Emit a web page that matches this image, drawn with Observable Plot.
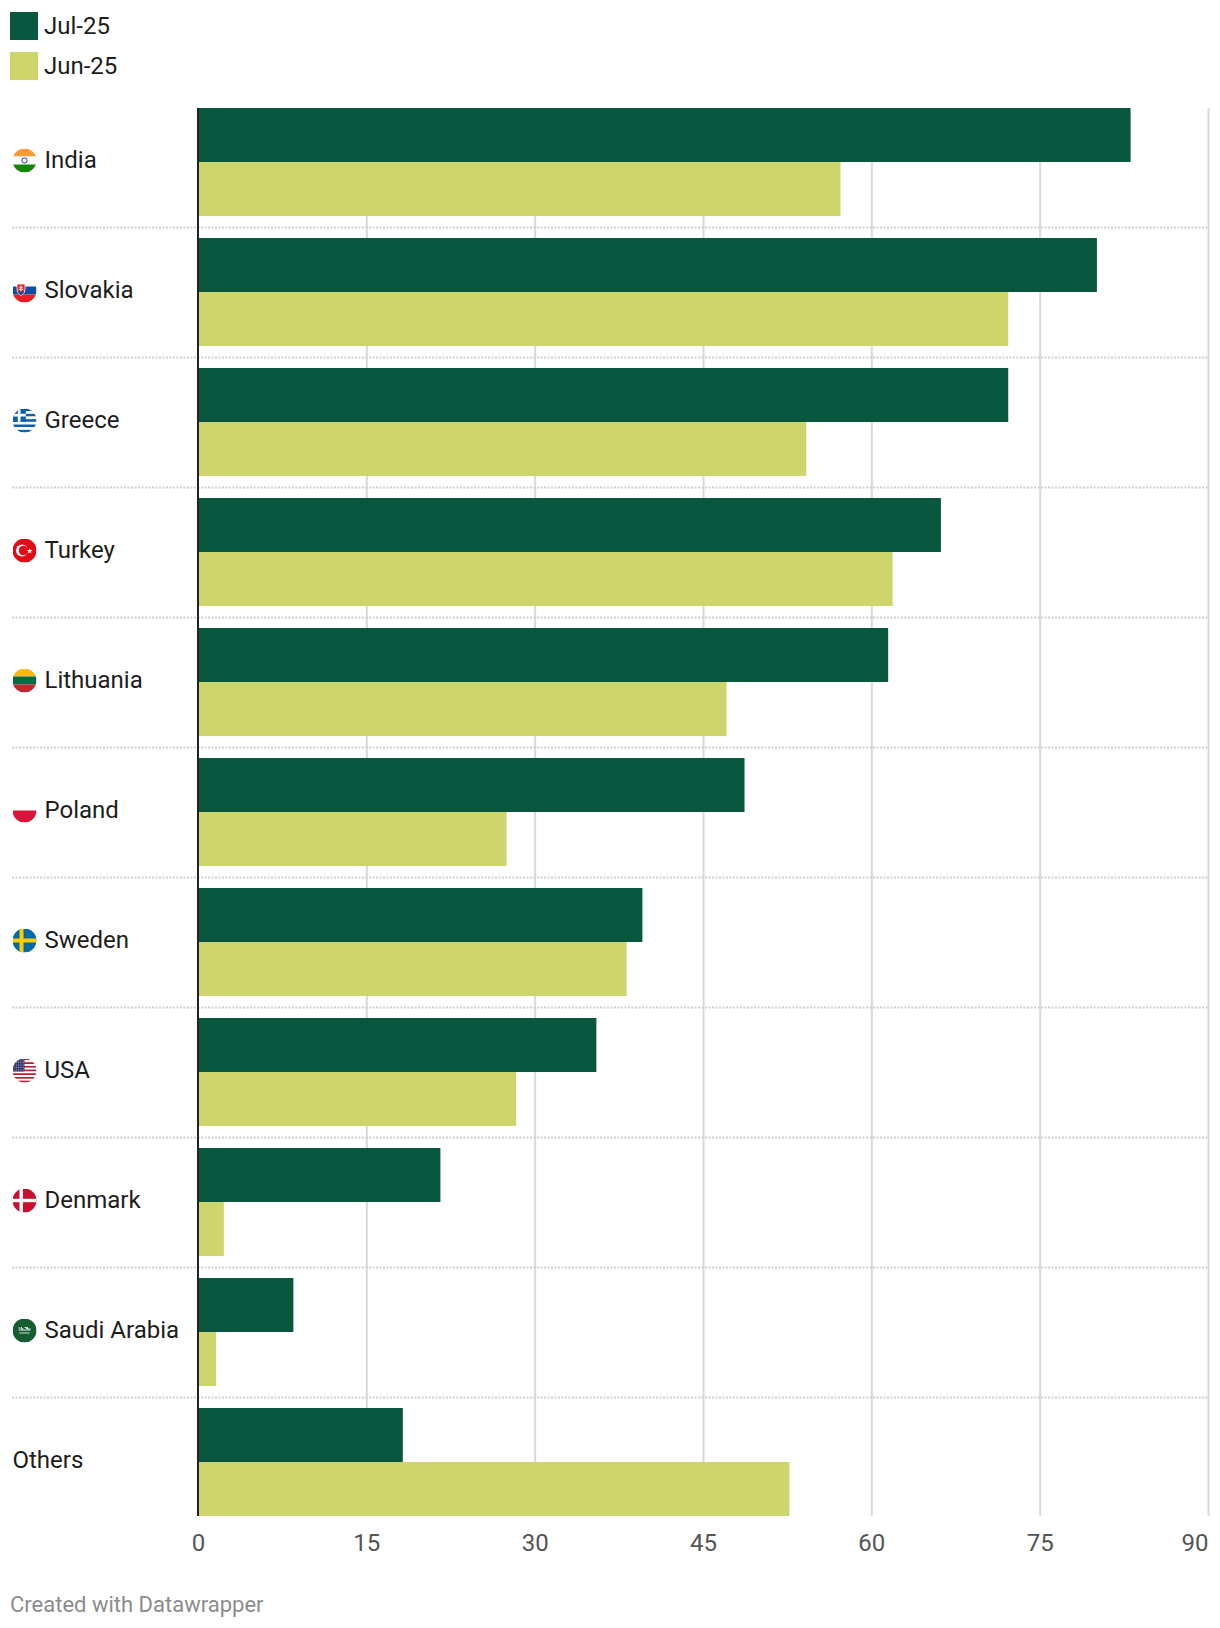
<!DOCTYPE html>
<html>
<head>
<meta charset="utf-8">
<script src="https://cdn.jsdelivr.net/npm/d3@7"></script>
<script src="https://cdn.jsdelivr.net/npm/@observablehq/plot@0.6"></script>
<style>
  html, body { margin: 0; padding: 0; background: #fff; }
  body { width: 1220px; height: 1628px; position: relative; font-family: Roboto, "Noto Sans", sans-serif; }
  .leg { position: absolute; left: 10px; display: flex; align-items: center; font-size: 24px; color: #1d1d1d; }
  .leg .sw { width: 28px; height: 28px; margin-right: 6px; }
  #chart { position: absolute; left: 0; top: 90px; }
  #foot { position: absolute; left: 10px; top: 1592px; font-size: 22px; color: #8c8c8c; }
</style>
</head>
<body>
<div id="legend"></div>
<div id="chart"></div>
<div id="foot">Created with Datawrapper</div>
<script>
const countries = ["India","Slovakia","Greece","Turkey","Lithuania","Poland","Sweden","USA","Denmark","Saudi Arabia","Others"];
const jul25 = [83.1, 80.1, 72.2, 66.2, 61.5, 48.7, 39.6, 35.5, 21.6, 8.5, 18.25];
const jun25 = [57.25, 72.2, 54.2, 61.9, 47.1, 27.5, 38.2, 28.35, 2.3, 1.6, 52.7];
const seriesNames = ["Jul-25", "Jun-25"];
const seriesColors = ["#09563e", "#cfd56d"];
const xTicks = [0, 15, 30, 45, 60, 75, 90];

// simplified circular flag icons (decorative)
const flagSvgs = {
  "India": '<rect width="24" height="8" fill="#ff9933"/><rect y="8" width="24" height="8" fill="#fff"/><rect y="16" width="24" height="8" fill="#138808"/><circle cx="12" cy="12" r="2.6" fill="none" stroke="#000080" stroke-width="0.8"/>',
  "Slovakia": '<rect width="24" height="8" fill="#fff"/><rect y="8" width="24" height="8" fill="#0b4ea2"/><rect y="16" width="24" height="8" fill="#ee1c25"/><path d="M4.5 5.5h8v5.5q0 4-4 6q-4-2-4-6z" fill="#ee1c25" stroke="#fff" stroke-width="0.8"/><path d="M8.5 7v7M6.8 8.8h3.4M6.2 10.8h4.6" stroke="#fff" stroke-width="1"/><path d="M5.3 14q3.2-2.6 6.4 0q-1.4 1.8-3.2 2.6q-1.8-.8-3.2-2.6z" fill="#0b4ea2"/>',
  "Greece": (() => { let s = ""; for (let i = 0; i < 9; i++) s += `<rect y="${i*24/9}" width="24" height="${24/9+0.05}" fill="${i%2?"#fff":"#0d5eaf"}"/>`; return s + '<rect width="13.3" height="13.3" fill="#0d5eaf"/><rect x="5.3" width="2.7" height="13.3" fill="#fff"/><rect y="5.3" width="13.3" height="2.7" fill="#fff"/>'; })(),
  "Turkey": '<rect width="24" height="24" fill="#e30a17"/><circle cx="9.5" cy="12" r="6" fill="#fff"/><circle cx="11" cy="12" r="4.8" fill="#e30a17"/><path d="M17.2 9.6l.7 2 2.1.1-1.7 1.3.6 2-1.7-1.2-1.7 1.2.6-2-1.7-1.3 2.1-.1z" fill="#fff"/>',
  "Lithuania": '<rect width="24" height="8" fill="#fdb913"/><rect y="8" width="24" height="8" fill="#006a44"/><rect y="16" width="24" height="8" fill="#c1272d"/>',
  "Poland": '<rect width="24" height="12" fill="#fff"/><rect y="12" width="24" height="12" fill="#dc143c"/>',
  "Sweden": '<rect width="24" height="24" fill="#006aa7"/><rect x="7" width="4" height="24" fill="#fecc00"/><rect y="10" width="24" height="4" fill="#fecc00"/>',
  "USA": (() => { let s = ""; for (let i = 0; i < 13; i++) s += `<rect y="${i*24/13}" width="24" height="${24/13+0.05}" fill="${i%2?"#fff":"#b22234"}"/>`; s += '<rect width="12" height="13" fill="#3c3b6e"/>'; for (let r = 0; r < 5; r++) for (let c = 0; c < 5; c++) s += `<circle cx="${1.5+c*2.3}" cy="${1.5+r*2.5}" r="0.45" fill="#fff"/>`; return s; })(),
  "Denmark": '<rect width="24" height="24" fill="#c8102e"/><rect x="7" width="3.4" height="24" fill="#fff"/><rect y="10.3" width="24" height="3.4" fill="#fff"/>',
  "Saudi Arabia": '<rect width="24" height="24" fill="#165d31"/><path d="M6 9.5h2M9 8.5v2h2M12 9h2v1.5M15 8.5v2h3M6 11.5h12" stroke="#fff" stroke-width="0.9" fill="none"/><path d="M7 14.5h10" stroke="#fff" stroke-width="0.8"/>'
};
const flagCountries = countries.filter(c => flagSvgs[c]);
const flagUri = c => "data:image/svg+xml;utf8," + encodeURIComponent(
  `<svg xmlns="http://www.w3.org/2000/svg" width="24" height="24" viewBox="0 0 24 24"><defs><clipPath id="c"><circle cx="12" cy="12" r="12"/></clipPath></defs><g clip-path="url(#c)">${flagSvgs[c]}</g></svg>`);

// legend
const legend = document.getElementById("legend");
seriesNames.forEach((name, i) => {
  const d = document.createElement("div");
  d.className = "leg";
  d.style.top = (12 + i * 40) + "px";
  d.innerHTML = `<div class="sw" style="background:${seriesColors[i]}"></div><span>${name}</span>`;
  legend.appendChild(d);
});

const julData = countries.map((c, i) => ({country: c, value: jul25[i]}));
const junData = countries.map((c, i) => ({country: c, value: jun25[i]}));

const plot = Plot.plot({
  width: 1220,
  height: 1486,
  marginLeft: 198,
  marginRight: 12,
  marginTop: 18,
  marginBottom: 60,
  style: {fontFamily: "Roboto, 'Noto Sans', sans-serif", fontSize: "24px", background: "#fff"},
  x: {domain: [0, 90], axis: null},
  y: {domain: countries, paddingInner: 22 / 130, paddingOuter: 0, axis: null},
  marks: [
    Plot.gridX(xTicks.slice(1), {stroke: "#d9d9d9", strokeOpacity: 1, strokeWidth: 2}),
    Plot.ruleY(countries.slice(0, -1), {y: d => d, dy: 65, stroke: "#cfcfcf", strokeWidth: 2, strokeDasharray: "2,1.5", insetLeft: -186}),
    Plot.barX(julData, {x: "value", y: "country", fill: seriesColors[0], insetBottom: 54}),
    Plot.barX(junData, {x: "value", y: "country", fill: seriesColors[1], insetTop: 54}),
    Plot.ruleX([0], {stroke: "#222", strokeWidth: 2, dx: -0.5}),
    Plot.axisX(xTicks.slice(0, -1), {tickSize: 0, tickPadding: 17, fill: "#555", fontSize: 24, label: null}),
    Plot.axisX(xTicks.slice(-1), {tickSize: 0, tickPadding: 17, fill: "#555", fontSize: 24, textAnchor: "end", label: null}),
    Plot.image(flagCountries, {y: d => d, src: flagUri, frameAnchor: "left", dx: -174, dy: -2, width: 24, height: 24}),
    Plot.text(flagCountries, {y: d => d, text: d => d, frameAnchor: "left", textAnchor: "start", dx: -154, dy: -2, fontSize: 24, fill: "#1d1d1d"}),
    Plot.text(countries.filter(c => !flagSvgs[c]), {y: d => d, text: d => d, frameAnchor: "left", textAnchor: "start", dx: -186, dy: -2, fontSize: 24, fill: "#1d1d1d"})
  ]
});
document.getElementById("chart").appendChild(plot);
</script>
</body>
</html>
